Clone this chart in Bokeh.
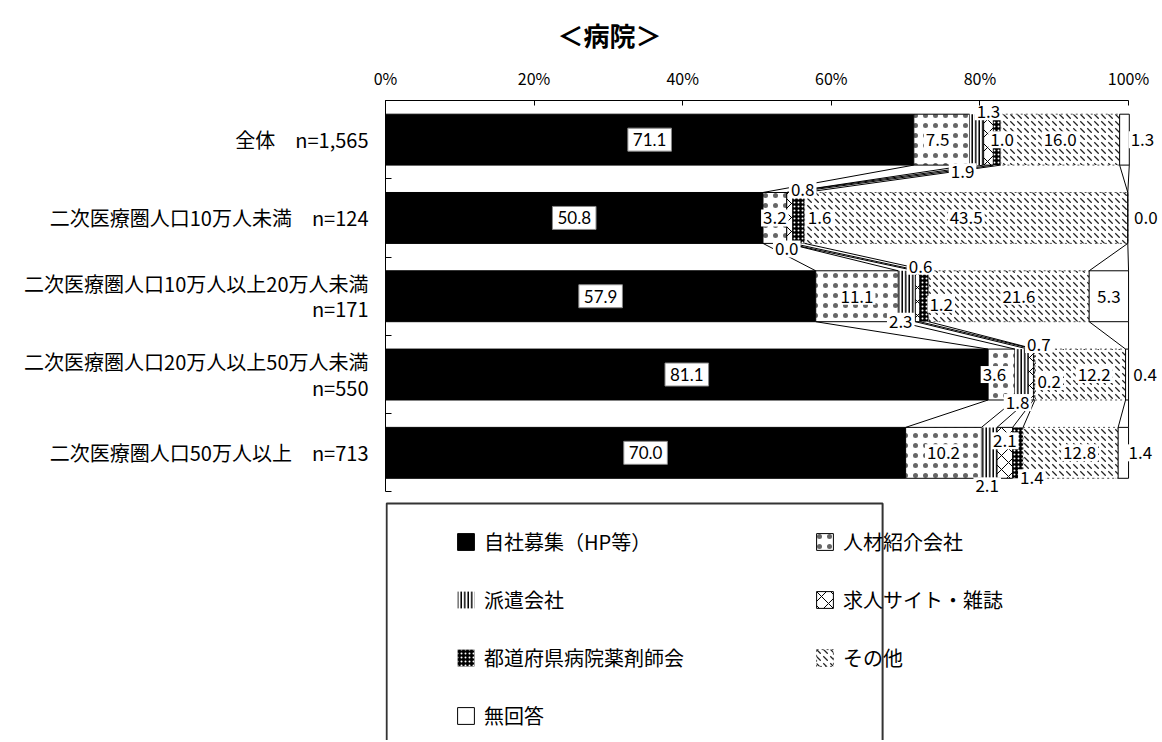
import numpy as np
from bokeh.plotting import figure
from bokeh.models import (Range1d, LinearAxis, FixedTicker, ColumnDataSource, Legend,
                          LegendItem, Title)
from bokeh.core.properties import value
from bokeh.embed import file_html
from bokeh.resources import INLINE

# ---------------- data ----------------
title_text = "＜病院＞"
categories = [
    "全体　n=1,565",
    "二次医療圏人口10万人未満　n=124",
    "二次医療圏人口10万人以上20万人未満\nn=171",
    "二次医療圏人口20万人以上50万人未満\nn=550",
    "二次医療圏人口50万人以上　n=713",
]
series_names = ["自社募集（HP等）", "人材紹介会社", "派遣会社", "求人サイト・雑誌",
                "都道府県病院薬剤師会", "その他", "無回答"]
jisha = [71.1, 50.8, 57.9, 81.1, 70.0]
jinzai = [7.5, 3.2, 11.1, 3.6, 10.2]
haken = [1.9, 0.0, 2.3, 1.8, 2.1]
kyujin = [1.3, 0.8, 0.6, 0.7, 2.1]
yakuzaishi = [1.0, 1.6, 1.2, 0.2, 1.4]
sonota = [16.0, 43.5, 21.6, 12.2, 12.8]
mukaito = [1.3, 0.0, 5.3, 0.4, 1.4]
x_ticks = [0, 20, 40, 60, 80, 100]

series_values = [jisha, jinzai, haken, kyujin, yakuzaishi, sonota, mukaito]

# ---------------- styles ----------------
JP = value("Noto Sans CJK JP")
styles = [
    dict(fill_color="black", line_color="black", hatch_pattern=None),
    dict(fill_color="white", line_color="black", hatch_pattern="dot", hatch_color="black",
         hatch_scale=10, hatch_weight=0.2, hatch_alpha=0.6),
    dict(fill_color="white", line_color=None, hatch_pattern="vertical_line", hatch_color="black",
         hatch_scale=3.5, hatch_weight=1.5),
    dict(fill_color="white", line_color="black", hatch_pattern="diagonal_cross", hatch_color="black",
         hatch_scale=14, hatch_weight=1),
    dict(fill_color="black", line_color=None, hatch_pattern="dot", hatch_color="white",
         hatch_scale=4, hatch_weight=1.2),
    dict(fill_color="white", line_color="#555555", line_dash="2 3", hatch_pattern="left_diagonal_dash",
         hatch_color="#222222", hatch_scale=7, hatch_weight=1.3),
    dict(fill_color="white", line_color="black", hatch_pattern=None),
]
# label pixel offsets per series (rows in order)
label_dx = [
    [0, 0, 0, 0, 0],
    [-4, 0, 0, -7, 0],
    [-14, 0, -6, -4, -2],
    [0, 13, 3, 8, 0],
    [5, 21, 17, 15, 14],
    [0, 0, 10, 14, 9],
    [18, 18, 0, 18, 17],
]
label_dy = [
    [0, 0, 0, 0, 0],
    [0, 0, 0, 0, 0],
    [32, 31, 25, 28, 33],
    [-28, -28, -30, -30, -12],
    [0, 0, 8, 7, 25],
    [0, 0, 0, 0, 0],
    [0, 0, 0, 0, 0],
]

BAR_H = 0.65
rows = list(range(len(categories)))

p = figure(width=1160, height=740, output_backend="svg", toolbar_location=None,
           x_range=Range1d(0, 104.3), y_range=Range1d(7.674, -0.5),
           x_axis_location=None, y_axis_location=None,
           min_border_left=385, min_border_top=100, min_border_bottom=0, min_border_right=0)
p.outline_line_color = None
p.grid.visible = False
p.background_fill_color = "white"

p.title = Title(text=title_text, align="left", offset=172, text_font_size="26px",
                text_font="Noto Sans CJK JP", text_font_style="bold", text_color="black",
                standoff=20)

xaxis = LinearAxis(ticker=FixedTicker(ticks=x_ticks, minor_ticks=[]),
                   major_label_overrides={t: f"{t}%" for t in x_ticks},
                   bounds=(0, 100), major_tick_in=5, major_tick_out=0,
                   minor_tick_in=0, minor_tick_out=0, major_label_standoff=11,
                   major_label_text_font="Noto Sans CJK JP", major_label_text_font_size="16px",
                   major_label_text_color="black", axis_line_color="black")
p.add_layout(xaxis, "above")

yaxis = LinearAxis(ticker=FixedTicker(ticks=rows, minor_ticks=[r - 0.5 for r in range(len(rows) + 1)]),
                   major_label_overrides={r: c for r, c in zip(rows, categories)},
                   bounds=(-0.5, len(rows) - 0.5), major_tick_in=0, major_tick_out=0,
                   minor_tick_in=6, minor_tick_out=0, major_label_standoff=17,
                   major_label_text_font="Noto Sans CJK JP", major_label_text_font_size="20px",
                   major_label_text_line_height=0.87,
                   major_label_text_color="black", axis_line_color="black", minor_tick_line_color="black")
p.add_layout(yaxis, "left")

vals = np.array(series_values)            # shape (series, rows)
cum = np.vstack([np.zeros(len(rows)), np.cumsum(vals, axis=0)])  # (series+1, rows)

renderers = []
for j, name in enumerate(series_names):
    src = ColumnDataSource(dict(y=rows, left=cum[j], right=cum[j + 1]))
    st = dict(styles[j])
    if st.get("hatch_pattern") is None:
        st.pop("hatch_pattern")
    r = p.hbar(y="y", left="left", right="right", height=BAR_H, source=src, line_width=1, **st)
    renderers.append(r)

# series lines between consecutive bars
x0s, y0s, x1s, y1s = [], [], [], []
for k in range(1, len(series_names) + 1):
    for i in range(len(rows) - 1):
        x0s.append(cum[k][i]); y0s.append(rows[i] + BAR_H / 2)
        x1s.append(cum[k][i + 1]); y1s.append(rows[i + 1] - BAR_H / 2)
p.segment(x0=x0s, y0=y0s, x1=x1s, y1=y1s, line_color="black", line_width=1)

# data labels
for j in range(len(series_names)):
    centers = (cum[j] + cum[j + 1]) / 2
    src = ColumnDataSource(dict(x=centers, y=rows, t=[f"{v:.1f}" for v in series_values[j]],
                                dx=label_dx[j], dy=label_dy[j]))
    if j == 0:
        p.text(x="x", y="y", text="t", x_offset="dx", y_offset="dy", source=src,
               text_align="center", text_baseline="middle", text_font=value("Lato"),
               text_font_size="17px", text_color="black", background_fill_color="white",
               border_line_color="#888888", padding=5)
    else:
        p.text(x="x", y="y", text="t", x_offset="dx", y_offset="dy", source=src,
               text_align="center", text_baseline="middle", text_font=JP,
               text_font_size="17px", text_color="black", background_fill_color="white",
               padding=2)

# legend frame (open at the bottom, as in the cropped original)
box_left, box_right, box_top, box_bottom = 0.15, 66.9, 4.647, 8.0
p.line(x=[box_left, box_left, box_right, box_right], y=[box_bottom, box_top, box_top, box_bottom],
       line_color="#333333", line_width=2)

legend = Legend(items=[LegendItem(label=n, renderers=[r]) for n, r in zip(series_names, renderers)],
                location=(70, 10), orientation="horizontal", ncols=2,
                glyph_width=21, glyph_height=21, label_standoff=8, spacing=29,
                padding=0, margin=0, border_line_color=None, background_fill_alpha=0,
                label_text_font="Noto Sans CJK JP", label_text_font_size="20px",
                label_text_color="black",
                label_width=301, label_height=28)
p.add_layout(legend)

open("out.html", "w").write(file_html(p, INLINE))
